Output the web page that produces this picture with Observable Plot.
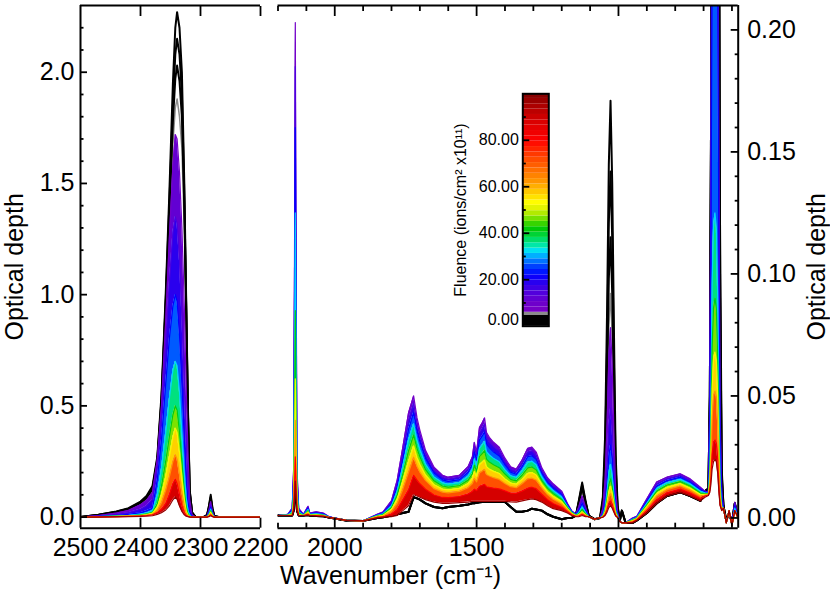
<!DOCTYPE html>
<html>
<head>
<meta charset="utf-8">
<script src="https://cdn.jsdelivr.net/npm/d3@7"></script>
<script src="https://cdn.jsdelivr.net/npm/@observablehq/plot@0.6"></script>
<style>
html, body { margin: 0; padding: 0; background: #fff; }
#chart { position: relative; width: 830px; height: 593px; overflow: hidden; }
#chart svg { position: absolute; left: 0; top: 0; background: transparent; }
</style>
</head>
<body>
<div id="chart"></div>
<script>
// ---------- DATA ----------
// Fluence of each plotted spectrum (ions/cm2 x1e11): 3 black, 1 gray, 9 coloured
const levelNames = ["black0", "black1", "black2", "gray", "purple", "violet", "blue", "cyan", "green", "yellow", "orange", "red", "darkred"];
const levelFluence = [0, 1.5, 3, 5.3, 8, 15, 22, 31.5, 41, 52, 62, 80, 97];

// Left panel: CO2 stretch region (wavenumber, cm-1)
const leftWavenumber = [2500, 2470, 2440, 2420, 2400, 2390, 2380, 2372, 2365, 2358, 2352, 2346, 2342, 2339, 2335, 2331, 2327, 2324, 2321, 2318, 2314, 2308, 2295, 2289, 2286, 2283, 2280, 2277, 2270, 2200];
const leftBlack0 = [0, .01, .025, .04, .07, .095, .14, .27, .55, 1.0, 1.45, 1.95, 2.2, 2.27, 2.2, 2.0, 1.5, 1.0, .5, .12, .02, 0, 0, .01, .05, .1, .04, .005, 0, 0];
const leftBlack1 = [0, .01, .024, .038, .066, .09, .13, .26, .53, .97, 1.4, 1.85, 2.08, 2.15, 2.08, 1.9, 1.45, .97, .48, .12, .02, 0, 0, .009, .045, .09, .035, .005, 0, 0];
const leftBlack2 = [0, .009, .023, .036, .063, .086, .125, .25, .52, .95, 1.35, 1.78, 1.97, 2.03, 1.96, 1.8, 1.4, .95, .47, .11, .02, 0, 0, .008, .04, .085, .03, .004, 0, 0];
const leftGray = [0, .008, .02, .033, .06, .08, .12, .25, .5, .92, 1.3, 1.68, 1.84, 1.88, 1.8, 1.66, 1.3, .9, .45, .1, .015, 0, 0, .007, .035, .075, .03, .003, 0, 0];
const leftPurple = [0, .007, .018, .03, .055, .075, .11, .26, .5, .88, 1.25, 1.58, 1.72, 1.7, 1.55, 1.3, .95, .6, .3, .08, .01, 0, 0, .005, .03, .07, .025, .003, 0, 0];
const leftViolet = [0, .005, .012, .02, .035, .05, .08, .23, .46, .78, 1.05, 1.28, 1.35, 1.32, 1.15, .9, .6, .35, .15, .04, .005, 0, 0, .004, .025, .055, .02, .002, 0, 0];
const leftBlue = [0, .003, .008, .012, .02, .028, .04, .17, .35, .6, .8, .95, 1.0, .97, .82, .6, .35, .18, .07, .02, .003, 0, 0, .003, .02, .045, .015, .002, 0, 0];
const leftCyan = [0, .002, .005, .008, .013, .018, .028, .1, .22, .38, .53, .66, .70, .68, .56, .38, .2, .09, .03, .01, 0, 0, 0, .002, .015, .036, .012, .001, 0, 0];
const leftGreen = [0, .002, .004, .006, .01, .014, .022, .06, .14, .25, .36, .46, .50, .48, .38, .25, .12, .05, .015, .005, 0, 0, 0, .002, .012, .028, .01, .001, 0, 0];
const leftYellow = [0, .001, .003, .005, .008, .011, .018, .045, .1, .18, .27, .36, .40, .38, .29, .18, .08, .03, .01, .003, 0, 0, 0, .001, .009, .022, .008, .001, 0, 0];
const leftOrange = [0, .001, .002, .004, .006, .009, .014, .03, .065, .12, .18, .25, .28, .26, .19, .11, .05, .018, .006, .002, 0, 0, 0, .001, .006, .015, .005, 0, 0, 0];
const leftRed = [0, .001, .002, .003, .005, .007, .01, .02, .035, .06, .1, .15, .17, .15, .1, .05, .02, .008, .003, .001, 0, 0, 0, 0, .004, .01, .003, 0, 0, 0];
const leftDarkRed = [0, 0, .001, .002, .003, .004, .006, .012, .02, .032, .05, .078, .09, .08, .05, .025, .01, .004, .002, 0, 0, 0, 0, 0, .002, .006, .002, 0, 0, 0];

// Right panel: rows of [wavenumber, black0, black1, black2, gray, purple, violet, blue, cyan, green, yellow, orange, red, darkred]
const rightRows = [
  [2200, .001, .001, .001, .001, .001, .001, .001, .001, .001, .001, .001, .001, .001],
  [2165, .001, .001, .001, .001, .0015, .0015, .0014, .0013, .0012, .0012, .0011, .001, .001],
  [2150, .001, .001, .001, .001, .004, .0037, .0032, .0025, .0018, .0014, .0012, .001, .001],
  [2145, .003, .003, .003, .003, .02, .018, .016, .013, .009, .007, .005, .004, .003],
  [2142, .008, .008, .008, .008, .1, .09, .08, .062, .043, .029, .02, .013, .008],
  [2139, .015, .015, .015, .015, .203, .185, .16, .125, .085, .057, .04, .025, .015],
  [2136, .008, .008, .008, .008, .1, .09, .08, .062, .043, .029, .02, .013, .008],
  [2133, .003, .003, .003, .003, .02, .018, .016, .013, .009, .007, .005, .004, .003],
  [2127, .001, .001, .001, .001, .004, .0035, .003, .0025, .002, .0015, .0012, .001, .001],
  [2110, .001, .001, .001, .001, .0015, .0014, .0013, .0012, .001, .001, .001, .001, .001],
  [2094, .0012, .0012, .0012, .0012, .0048, .0044, .004, .0035, .003, .0025, .002, .0015, .0012],
  [2088, .001, .001, .001, .001, .002, .0019, .0017, .0015, .0013, .0012, .001, .001, .001],
  [2065, .0008, .0008, .0008, .0008, .0025, .0023, .002, .0018, .0015, .0013, .0011, .001, .0008],
  [2040, .0007, .0007, .0007, .0007, .002, .0018, .0016, .0014, .0012, .001, .0009, .0008, .0007],
  [2020, .0002, .0002, .0002, .0002, .0005, .0005, .0004, .0004, .0003, .0003, .0002, .0002, .0002],
  [1960, -.001, -.001, -.001, -.001, -.001, -.001, -.001, -.001, -.001, -.001, -.001, -.001, -.001],
  [1900, -.0012, -.0012, -.0012, -.0012, -.0012, -.0012, -.0012, -.0012, -.0012, -.0012, -.0012, -.0012, -.0012],
  [1850, 0, 0, 0, 0, .0015, .0014, .0012, .0011, .0009, .0007, .0005, .0003, 0],
  [1830, .0003, .0003, .0003, .0003, .0024, .0022, .002, .0017, .0014, .0011, .0008, .0004, .0003],
  [1800, .001, .001, .001, .001, .007, .0065, .0058, .005, .0043, .0035, .0027, .0016, .0005],
  [1780, .0015, .0015, .0015, .0015, .0154, .0142, .0128, .0111, .0094, .0076, .0059, .0034, .001],
  [1760, .002, .002, .002, .002, .029, .0269, .0243, .0212, .0181, .015, .0118, .0074, .003],
  [1740, .0025, .0025, .0025, .0025, .043, .040, .0363, .0319, .0275, .023, .0186, .0115, .005],
  [1722, .0085, .0085, .0085, .0085, .050, .047, .0432, .0386, .034, .0295, .0249, .0175, .0095],
  [1710, .008, .008, .008, .008, .041, .0386, .0356, .032, .0284, .0248, .0212, .0155, .009],
  [1700, .0075, .0075, .0075, .0075, .036, .0339, .0313, .0282, .0251, .022, .0188, .014, .0085],
  [1680, .006, .006, .006, .006, .0277, .0262, .0243, .0221, .0198, .0176, .0154, .0118, .0075],
  [1650, .0045, .0045, .0045, .0045, .0208, .0197, .0184, .0168, .0152, .0136, .012, .0094, .0065],
  [1620, .004, .004, .004, .004, .0175, .0167, .0156, .0144, .0131, .0118, .0106, .0084, .006],
  [1600, .0045, .0045, .0045, .0045, .0167, .0159, .015, .0138, .0126, .0115, .0103, .0083, .006],
  [1560, .005, .005, .005, .005, .0175, .0167, .0157, .0145, .0133, .0121, .0109, .0088, .0063],
  [1530, .0055, .0055, .0055, .0055, .021, .02, .0187, .0171, .0155, .014, .0124, .0098, .0065],
  [1515, .006, .006, .006, .006, .025, .0237, .022, .02, .0181, .0161, .0141, .0108, .0068],
  [1508, .006, .006, .006, .006, .031, .0292, .027, .0243, .0216, .019, .0162, .0118, .0068],
  [1500, .0062, .0062, .0062, .0062, .027, .0255, .0237, .0215, .0192, .017, .0148, .0112, .0068],
  [1490, .0064, .0064, .0064, .0064, .037, .0347, .0319, .0285, .0252, .0218, .0184, .013, .0068],
  [1480, .0065, .0065, .0065, .0065, .039, .0366, .0336, .030, .0264, .0228, .0192, .0134, .0068],
  [1472, .0065, .0065, .0065, .0065, .041, .0384, .0352, .0314, .0276, .0237, .0199, .0138, .0068],
  [1465, .0065, .0065, .0065, .0065, .035, .0329, .0303, .0272, .0241, .021, .0178, .0128, .0068],
  [1455, .0065, .0065, .0065, .0065, .033, .0311, .0287, .0258, .0229, .020, .0172, .0125, .0068],
  [1440, .0065, .0065, .0065, .0065, .031, .0292, .027, .0244, .0218, .0191, .0165, .0122, .0068],
  [1420, .0065, .0065, .0065, .0065, .029, .0274, .0254, .023, .0206, .0182, .0158, .0119, .0068],
  [1400, .0065, .0065, .0065, .0065, .0245, .0232, .0217, .0198, .018, .016, .0141, .0111, .0068],
  [1380, .0045, .0045, .0045, .0045, .021, .020, .0188, .0173, .0158, .0143, .0128, .0102, .0066],
  [1360, .0025, .0025, .0025, .0025, .020, .0191, .0179, .0166, .0152, .0138, .0124, .0101, .0065],
  [1340, .0025, .0025, .0025, .0025, .0236, .0224, .021, .0192, .0175, .0157, .014, .011, .007],
  [1320, .003, .003, .003, .003, .0285, .027, .0251, .0228, .0205, .0182, .016, .0122, .0075],
  [1305, .0038, .0038, .0038, .0038, .029, .0275, .0255, .0232, .0209, .0186, .0163, .0126, .0078],
  [1290, .0035, .0035, .0035, .0035, .027, .0256, .0239, .0218, .0197, .0176, .0155, .012, .0075],
  [1270, .003, .003, .003, .003, .0205, .0195, .0183, .0168, .0153, .0138, .0123, .0097, .0065],
  [1250, .0015, .0015, .0015, .0015, .0165, .0157, .0146, .0134, .0121, .0108, .0096, .0075, .005],
  [1230, .0005, .0005, .0005, .0005, .014, .0132, .0123, .0112, .01, .0089, .0077, .0059, .0038],
  [1200, -.0005, -.0005, -.0005, -.0005, .011, .0104, .0096, .0086, .0076, .0067, .0057, .0044, .003],
  [1180, 0, 0, 0, 0, .006, .0057, .0053, .0048, .0043, .0038, .0034, .0027, .002],
  [1165, 0, 0, 0, 0, .003, .0028, .0026, .0024, .0022, .0019, .0017, .0013, .001],
  [1150, .001, .001, .001, .001, .0015, .0014, .0013, .0012, .0011, .001, .0008, .0007, .0005],
  [1140, .007, .0065, .006, .005, .0045, .0038, .003, .0023, .0017, .0013, .001, .0008, .0005],
  [1128, .0145, .0135, .0125, .011, .009, .0075, .006, .0045, .0035, .0025, .002, .0015, .001],
  [1116, .007, .0065, .006, .005, .0045, .0038, .003, .0023, .0017, .0013, .001, .0008, .0005],
  [1105, .001, .001, .001, .001, .0005, .0005, .0005, .0005, .0005, .0005, .0005, .0005, .0005],
  [1085, -.0005, -.0005, -.0005, -.0005, -.0005, -.0005, -.0005, -.0005, -.0005, -.0005, -.0005, -.0005, -.0005],
  [1065, 0, 0, 0, 0, 0, 0, 0, 0, 0, 0, 0, 0, 0],
  [1055, .0086, .0071, .0058, .0046, .0039, .0023, .0015, .0011, .0008, .0007, .0005, .0004, .0003],
  [1047, .034, .028, .023, .018, .016, .009, .006, .0044, .0032, .0026, .002, .0014, .001],
  [1040, .086, .071, .058, .046, .039, .0225, .015, .011, .008, .0065, .005, .0035, .0025],
  [1034, .145, .121, .098, .078, .066, .038, .0255, .0187, .0136, .011, .0085, .006, .0043],
  [1028, .171, .142, .115, .092, .078, .045, .03, .022, .016, .013, .01, .007, .005],
  [1022, .137, .114, .092, .074, .062, .036, .024, .0176, .0128, .0104, .008, .0056, .004],
  [1016, .077, .064, .052, .041, .035, .02, .0135, .0099, .0072, .0059, .0045, .0032, .0023],
  [1010, .026, .021, .017, .014, .012, .0068, .0045, .0033, .0024, .002, .0015, .001, .0008],
  [1003, .005, .0043, .0035, .0028, .0023, .0014, .0009, .0007, .0005, .0004, .0003, .0002, .0002],
  [995, -.001, -.001, -.001, -.001, -.0015, -.0015, -.0015, -.0015, -.0015, -.0015, -.0015, -.0015, -.0015],
  [988, .003, .003, .003, .003, -.002, -.002, -.002, -.002, -.002, -.002, -.002, -.002, -.002],
  [975, -.002, -.002, -.002, -.002, -.002, -.002, -.002, -.002, -.002, -.002, -.002, -.002, -.002],
  [950, -.002, -.002, -.002, -.002, 0, -.0002, -.0004, -.0006, -.0008, -.0011, -.0013, -.0017, -.002],
  [935, -.001, -.001, -.001, -.001, .0007, .0006, .0004, .0002, 0, -.0002, -.0004, -.0007, -.001],
  [900, .002, .002, .002, .002, .0078, .0073, .0068, .0061, .0054, .0047, .004, .003, .002],
  [865, .006, .006, .006, .006, .0147, .014, .0131, .0121, .011, .010, .009, .0075, .006],
  [829, .009, .009, .009, .009, .0167, .0161, .0153, .0144, .0135, .0125, .0116, .0103, .009],
  [782, .0105, .0105, .0105, .0105, .0181, .0175, .0167, .0158, .0149, .014, .0131, .0118, .0105],
  [747, .009, .009, .009, .009, .016, .0154, .0147, .0139, .0131, .0122, .0114, .0102, .009],
  [711, .007, .007, .007, .007, .0126, .0122, .0116, .0109, .0102, .0096, .0089, .008, .007],
  [695, .011, .011, .011, .011, .011, .0108, .0106, .0103, .010, .0097, .0094, .009, .0085],
  [683, .012, .012, .012, .012, .0106, .0105, .0104, .0102, .010, .0098, .0097, .0094, .0092],
  [678, .05, .05, .05, .05, .05, .044, .038, .0206, .0171, .0149, .0133, .0113, .0105],
  [674, .153, .153, .153, .153, .153, .132, .111, .049, .037, .029, .0237, .0167, .0139],
  [670, .317, .317, .317, .317, .317, .272, .227, .096, .0695, .053, .041, .026, .020],
  [665, .57, .523, .475, .437, .399, .342, .285, .119, .086, .065, .05, .031, .0231],
  [660, .6, .55, .5, .46, .42, .36, .3, .125, .09, .068, .052, .032, .024],
  [655, .57, .523, .475, .437, .399, .342, .285, .119, .0858, .0648, .0497, .0306, .0231],
  [650, .5, .46, .42, .39, .295, .253, .211, .0887, .0642, .0488, .0376, .0236, .018],
  [646, .3, .27, .25, .22, .149, .128, .107, .046, .0338, .0261, .0205, .0135, .0107],
  [642, .12, .1, .09, .07, .0447, .0387, .0327, .0152, .0117, .0095, .0079, .0059, .0051],
  [636, .02, .018, .016, .014, .011, .0097, .0085, .005, .0043, .0038, .0035, .0031, .003],
  [630, .005, .005, .005, .005, .004, .004, .004, .004, .004, .004, .004, .004, .004],
  [620, -.001, -.001, -.001, -.001, -.002, -.002, -.002, -.002, -.002, -.002, -.002, -.002, -.002],
  [610, .002, .002, .002, .002, .003, .003, .003, .003, .003, .003, .003, .003, .003],
  [600, -.002, -.002, -.002, -.002, -.003, -.003, -.003, -.003, -.003, -.003, -.003, -.003, -.003],
  [590, .006, .006, .006, .006, .0065, .006, .005, .004, .003, .003, .003, .003, .003],
  [578, 0, 0, 0, 0, 0, 0, 0, 0, 0, 0, 0, 0, 0]
];

// Colour table of the fluence bar
const colorStops = [0, 4.6, 4.61, 6, 6.01, 10, 14, 18, 22, 26, 29, 32, 35, 38, 42, 46, 50, 53, 57, 62, 68, 74, 80, 88, 94, 100];
const colorRange = ["#000000", "#000000", "#8c8c8c", "#8c8c8c", "#7a00c4", "#6c00cc", "#5200dc", "#3000ec", "#0000ff", "#0048ff", "#0090ff", "#00e0ff", "#00e8a0", "#00d850", "#00c800", "#70e000", "#d8f000", "#ffff00", "#ffd000", "#ff9800", "#ff6800", "#ff3800", "#ff0000", "#d80000", "#b00000", "#800000"];
const fluenceSteps = [0, 4.6, 6, 8.3, 10.6, 12.9, 15.2, 17.5, 19.8, 22.1, 24.4, 26.7, 29, 31.3, 33.6, 35.9, 38.2, 40.5, 42.8, 45.1, 47.4, 49.7, 52, 54.3, 56.6, 58.9, 61.2, 63.5, 65.8, 68.1, 70.4, 72.7, 75, 77.3, 79.6, 81.9, 84.2, 86.5, 88.8, 91.1, 93.4, 95.7, 98, 100];
const fluenceLabels = [0, 20, 40, 60, 80];
const fluenceMinor = [10, 30, 50, 70, 90];

// Axes
const leftXDomain = [2500, 2200];
const leftYDomain = [-0.05, 2.3];
const rightXDomain = [2200, 578];
const rightYDomain = [-0.0042, 0.21];
const leftXTicks = [2500, 2400, 2300, 2200];
const leftXTickMarks = [2400, 2300, 2200];
const leftYTicks = [0, 0.5, 1.0, 1.5, 2.0];
const leftYMinor = [0.1, 0.2, 0.3, 0.4, 0.6, 0.7, 0.8, 0.9, 1.1, 1.2, 1.3, 1.4, 1.6, 1.7, 1.8, 1.9, 2.1, 2.2];
const rightXTicks = [2000, 1500, 1000];
const rightXMinor = [2200, 2100, 1900, 1800, 1700, 1600, 1400, 1300, 1200, 1100, 900, 800, 700, 600];
const rightYTicks = [0, 0.05, 0.10, 0.15, 0.20];
const rightYMinor = [0.01, 0.02, 0.03, 0.04, 0.06, 0.07, 0.08, 0.09, 0.11, 0.12, 0.13, 0.14, 0.16, 0.17, 0.18, 0.19];

// ---------- BUILD ----------
const W = 830, H = 593;
const FONT = "'Liberation Sans', Arial, Helvetica, sans-serif";
const colorOpts = {type: "linear", domain: colorStops, range: colorRange, interpolate: "rgb", clamp: true};
const FIRST_COLORED = 4;

function buildPanel(wns, levels) {
  const pts = [];
  levels.forEach((arr, k) => arr.forEach((od, j) => pts.push({wn: wns[j], od, k, f: levelFluence[k]})));
  const bands = [];
  for (let k = FIRST_COLORED; k < levels.length - 1; k++) {
    const fm = (levelFluence[k] + levelFluence[k + 1]) / 2;
    wns.forEach((wn, j) => bands.push({wn, hi: levels[k][j], lo: levels[k + 1][j], band: k, f: fm}));
  }
  return {
    black: pts.filter(d => d.k < 3),
    gray: pts.filter(d => d.k === 3),
    colored: pts.filter(d => d.k >= FIRST_COLORED),
    bands
  };
}

function spectraMarks(p) {
  return [
    Plot.line(p.gray, {x: "wn", y: "od", z: "k", stroke: "f", strokeWidth: 1.5, clip: true}),
    Plot.line(p.black, {x: "wn", y: "od", z: "k", stroke: "f", strokeWidth: 2, clip: true}),
    Plot.areaY(p.bands, {x: "wn", y1: "lo", y2: "hi", z: "band", fill: "f", clip: true}),
    Plot.line(p.colored, {x: "wn", y: "od", z: "k", stroke: "f", strokeWidth: 1.2, clip: true})
  ];
}

const leftPanel = buildPanel(leftWavenumber, [leftBlack0, leftBlack1, leftBlack2, leftGray, leftPurple, leftViolet, leftBlue, leftCyan, leftGreen, leftYellow, leftOrange, leftRed, leftDarkRed]);
const rightWavenumber = rightRows.map(r => r[0]);
const rightLevels = levelFluence.map((_, k) => rightRows.map(r => r[k + 1]));
const rightPanel = buildPanel(rightWavenumber, rightLevels);

const baseStyle = {background: "transparent", fontFamily: FONT, fontSize: "25px", color: "black", overflow: "visible"};
const TW = 1.8;

function tickX(ticks, size, anchor) {
  return Plot.axisX(ticks, {anchor, tickSize: size, dy: anchor === "bottom" ? -size : size, fill: "none", label: null, strokeWidth: TW});
}
function tickY(ticks, size, anchor) {
  return Plot.axisY(ticks, {anchor, tickSize: size, dx: anchor === "left" ? size : -size, fill: "none", label: null, strokeWidth: TW});
}

// Left panel
const LEFT = {l: 80, r: 260, t: 5, b: 527.7};
const leftSvg = Plot.plot({
  width: W, height: H,
  marginLeft: LEFT.l, marginRight: W - LEFT.r, marginTop: LEFT.t, marginBottom: H - LEFT.b,
  x: {domain: leftXDomain, axis: null},
  y: {domain: leftYDomain, axis: null},
  color: colorOpts,
  style: baseStyle,
  marks: [
    ...spectraMarks(leftPanel),
    Plot.ruleY([leftYDomain[0]], {strokeWidth: 2}),
    Plot.ruleY([leftYDomain[1]], {strokeWidth: 2}),
    Plot.ruleX([leftXDomain[0]], {strokeWidth: 2}),
    tickX(leftXTickMarks, 10, "bottom"),
    tickX(leftXTickMarks, 10, "top"),
    tickY(leftYTicks, 7, "left"),
    tickY(leftYMinor, 3.5, "left"),
    Plot.axisX(leftXTicks, {anchor: "bottom", tickSize: 0, tickPadding: 10, tickFormat: d => String(d), label: null}),
    Plot.axisY(leftYTicks, {anchor: "left", tickSize: 0, tickPadding: 6, tickFormat: d => d.toFixed(1), label: null}),
    Plot.text(["Optical depth"], {text: d => d, frameAnchor: "left", textAnchor: "middle", lineAnchor: "middle", dx: -66, rotate: -90})
  ]
});

// Right panel
const RIGHT = {l: 277.5, r: 737.7, t: 5, b: 527.7};
const rightSvg = Plot.plot({
  width: W, height: H,
  marginLeft: RIGHT.l, marginRight: W - RIGHT.r, marginTop: RIGHT.t, marginBottom: H - RIGHT.b,
  x: {domain: rightXDomain, axis: null},
  y: {domain: rightYDomain, axis: null},
  color: colorOpts,
  style: baseStyle,
  marks: [
    ...spectraMarks(rightPanel),
    Plot.ruleY([rightYDomain[0]], {strokeWidth: 2}),
    Plot.ruleY([rightYDomain[1]], {strokeWidth: 2}),
    Plot.ruleX([rightXDomain[1]], {strokeWidth: 2}),
    tickX(rightXTicks, 10, "bottom"),
    tickX(rightXMinor, 5, "bottom"),
    tickX(rightXTicks, 10, "top"),
    tickX(rightXMinor, 5, "top"),
    tickY(rightYTicks, 8, "right"),
    tickY(rightYMinor, 4, "right"),
    Plot.axisX(rightXTicks, {anchor: "bottom", tickSize: 0, tickPadding: 10, tickFormat: d => String(d), label: null}),
    Plot.axisY(rightYTicks, {anchor: "right", tickSize: 0, tickPadding: 9, tickFormat: d => d.toFixed(2), label: null}),
    Plot.text(["Optical depth"], {text: d => d, frameAnchor: "right", textAnchor: "middle", lineAnchor: "middle", dx: 79, rotate: -90}),
    Plot.text(["Wavenumber (cm⁻¹)"], {text: d => d, frameAnchor: "bottom", textAnchor: "middle", lineAnchor: "middle", dx: 390 - (RIGHT.l + RIGHT.r) / 2, dy: 48})
  ]
});

// Colour bar
const CB = {l: 522.3, r: 548.3, t: 93.3, b: 325.7};
const cbBands = fluenceSteps.slice(0, -1).map((lo, i) => ({lo, hi: fluenceSteps[i + 1], mid: (lo + fluenceSteps[i + 1]) / 2}));
const cbSvg = Plot.plot({
  width: W, height: H,
  marginLeft: CB.l, marginRight: W - CB.r, marginTop: CB.t, marginBottom: H - CB.b,
  y: {domain: [0, 100], axis: null},
  color: colorOpts,
  style: {...baseStyle, fontSize: "16px"},
  marks: [
    Plot.rect(cbBands, {y1: "lo", y2: "hi", fill: "mid"}),
    Plot.frame({stroke: "black", strokeWidth: 2}),
    tickY(fluenceLabels.slice(1), 7, "left"),
    tickY(fluenceMinor, 3.5, "left"),
    Plot.text(fluenceLabels.slice(1), {y: d => d, text: d => d.toFixed(2), frameAnchor: "left", textAnchor: "end", dx: -4}),
    Plot.text(fluenceLabels.slice(0, 1), {y: d => d, text: d => d.toFixed(2), frameAnchor: "left", textAnchor: "end", dx: -4, dy: -6}),
    Plot.text(["Fluence (ions/cm² x10¹¹)"], {text: d => d, frameAnchor: "left", textAnchor: "middle", lineAnchor: "middle", dx: -61.5, rotate: -90})
  ]
});

const chart = document.getElementById("chart");
chart.append(leftSvg, rightSvg, cbSvg);
</script>
</body>
</html>
